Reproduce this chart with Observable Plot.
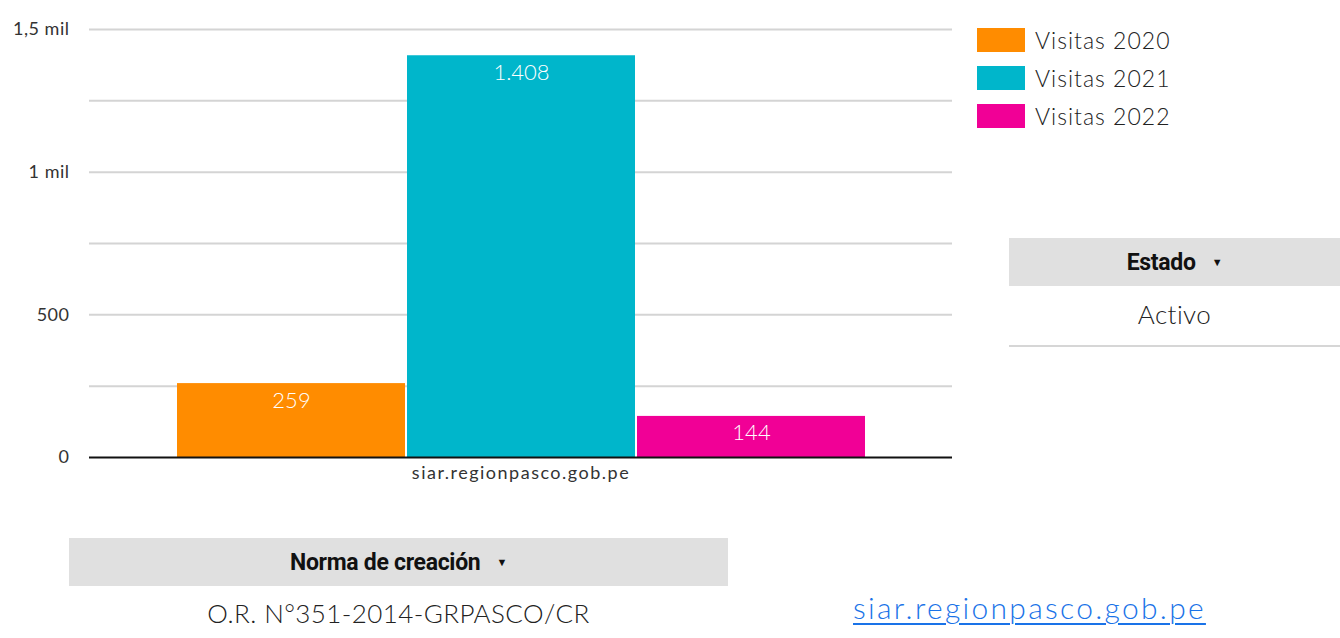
<!DOCTYPE html>
<html>
<head>
<meta charset="utf-8">
<script src="https://cdn.jsdelivr.net/npm/d3@7"></script>
<script src="https://cdn.jsdelivr.net/npm/@observablehq/plot@0.6"></script>
<style>
  html, body { margin: 0; padding: 0; background: #fff; }
  #page { position: relative; width: 1340px; height: 638px; overflow: hidden; font-family: Lato, "Open Sans", sans-serif; color: #222; }
  #chart { position: absolute; left: 0; top: 0; }
  #chart svg g[aria-label="y-axis tick label"] { font-size: 18px; letter-spacing: 0.5px; }
  #chart svg g[aria-label="text"][fill="#333333"] { font-size: 18px; letter-spacing: 1.5px; }
  .legend { position: absolute; left: 977px; top: 28px; }
  .legend .item { display: flex; align-items: center; height: 24px; margin-bottom: 14px; }
  .legend .sw { width: 48px; height: 24px; margin-right: 10px; }
  .legend .lb { font-size: 23px; font-weight: 300; letter-spacing: 1px; color: #222; }
  .hdr { position: absolute; background: #e0e0e0; font-family: Roboto, sans-serif; font-weight: 700; font-size: 23px; color: #111; display: flex; align-items: center; justify-content: center; letter-spacing: -0.3px; }
  .hdr .arr { font-size: 11px; margin-left: 16px; }
  .cell { position: absolute; text-align: center; font-size: 26px; font-weight: 300; color: #222; letter-spacing: 0.4px; }
  .link { position: absolute; left: 853px; top: 589px; font-size: 30px; font-weight: 300; color: #1a73e8; text-decoration: underline; text-decoration-thickness: 2px; text-underline-offset: 4px; letter-spacing: 2.3px; }
</style>
</head>
<body>
<div id="page">
  <div id="chart"></div>
  <div class="legend" id="legend"></div>
  <div class="hdr" style="left:1009px;top:238px;width:331px;height:48px;"><span id="estadoHdr"></span><span class="arr">&#9660;</span></div>
  <div class="cell" id="estadoVal" style="left:1009px;top:298px;width:331px;"></div>
  <div style="position:absolute;left:1009px;top:345px;width:331px;height:2px;background:#d6d6d6;"></div>
  <div class="hdr" style="left:69px;top:538px;width:659px;height:48px;"><span id="normaHdr"></span><span class="arr">&#9660;</span></div>
  <div class="cell" id="normaVal" style="left:69px;top:597px;width:659px;"></div>
  <div class="link" id="link"></div>
</div>
<script>
const categories = ["siar.regionpasco.gob.pe"];
const series = ["Visitas 2020", "Visitas 2021", "Visitas 2022"];
const values = [259, 1408, 144];
const colors = ["#ff8c00", "#00b6cb", "#f10096"];
const yTicks = [0, 500, 1000, 1500];
const gridLines = [250, 500, 750, 1000, 1250, 1500];
const estadoHeader = "Estado";
const estadoValue = "Activo";
const normaHeader = "Norma de creación";
const normaValue = "O.R. N°351-2014-GRPASCO/CR";
const linkText = "siar.regionpasco.gob.pe";

const data = series.map((s, i) => ({category: categories[0], series: s, value: values[i]}));

const fmtTick = d => d >= 1000 ? String(d / 1000).replace(".", ",") + " mil" : String(d);
const fmtVal = d => d3.format(",")(d).replace(/,/g, ".");

const chart = Plot.plot({
  width: 1340,
  height: 500,
  marginTop: 29,
  marginBottom: 43,
  marginLeft: 89,
  marginRight: 388,
  style: {fontFamily: "Lato, 'Open Sans', sans-serif", fontSize: "16px", color: "#333", background: "transparent"},
  y: {domain: [0, 1500], axis: null},
  x: {domain: series, range: [177, 865], paddingInner: 0.009, paddingOuter: 0, axis: null},
  color: {domain: series, range: colors},
  marks: [
    Plot.ruleY(gridLines, {y: d => d, stroke: "#d4d4d4", strokeWidth: 2}),
    Plot.barY(data, {x: "series", y: "value", fill: "series"}),
    Plot.text(data, {x: "series", y: "value", text: d => fmtVal(d.value), fill: "white", dy: 17, fontSize: 22, fontWeight: 300}),
    Plot.ruleY([0], {stroke: "#111", strokeWidth: 2}),
    Plot.axisY(yTicks, {tickSize: 0, tickPadding: 20, tickFormat: fmtTick, label: null, fill: "#333"}),
    Plot.text(categories, {text: d => d, frameAnchor: "bottom", dy: 21, fill: "#333333", fontSize: 18})
  ]
});
document.getElementById("chart").appendChild(chart);

const legend = document.getElementById("legend");
series.forEach((s, i) => {
  const item = document.createElement("div");
  item.className = "item";
  const sw = document.createElement("div");
  sw.className = "sw";
  sw.style.background = colors[i];
  const lb = document.createElement("div");
  lb.className = "lb";
  lb.textContent = s;
  item.appendChild(sw);
  item.appendChild(lb);
  legend.appendChild(item);
});
document.getElementById("estadoHdr").textContent = estadoHeader;
document.getElementById("estadoVal").textContent = estadoValue;
document.getElementById("normaHdr").textContent = normaHeader;
document.getElementById("normaVal").textContent = normaValue;
document.getElementById("link").textContent = linkText;
</script>
</body>
</html>
